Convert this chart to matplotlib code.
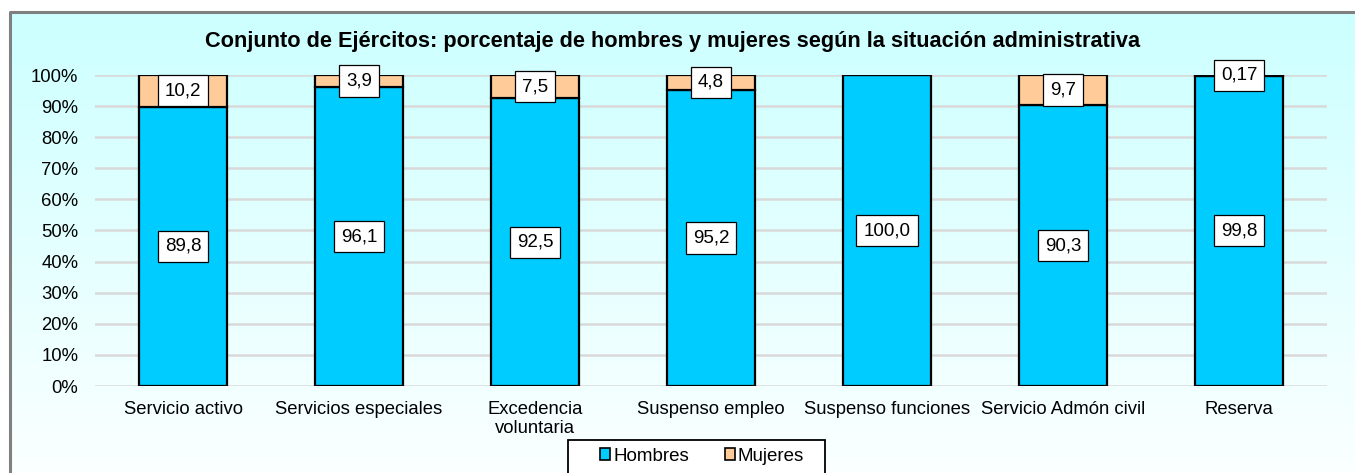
import numpy as np
import matplotlib.pyplot as plt
from matplotlib.lines import Line2D
from matplotlib.patches import Rectangle

plt.rcParams['font.family'] = ['Liberation Sans', 'DejaVu Sans']

categories = ['Servicio activo', 'Servicios especiales', 'Excedencia\nvoluntaria',
              'Suspenso empleo', 'Suspenso funciones', 'Servicio Admón civil', 'Reserva']
hombres = [89.8, 96.1, 92.5, 95.2, 100.0, 90.3, 99.83]
mujeres = [10.2, 3.9, 7.5, 4.8, 0.0, 9.7, 0.17]
hombres_txt = ['89,8', '96,1', '92,5', '95,2', '100,0', '90,3', '99,8']
mujeres_txt = ['10,2', '3,9', '7,5', '4,8', '', '9,7', '0,17']
yticks = list(range(0, 101, 10))

c_h = '#00CCFF'
c_m = '#FFCC99'

W, H = 1355, 473
fig = plt.figure(figsize=(W / 100, H / 100), dpi=100)

# chart area background: cyan at top fading to near white, framed top/left
bg = fig.add_axes([0, 0, 1, 1], zorder=-10)
grad = np.linspace(0, 1, 256).reshape(-1, 1)
top = np.array([0.80, 1.0, 1.0])
bot = np.array([0.985, 1.0, 1.0])
img = top[None, None, :] * (1 - grad[:, :, None]) + bot[None, None, :] * grad[:, :, None]
x0, y0 = 10 / W, 1 - 12 / H
bg.imshow(img, aspect='auto', extent=[x0, 1, 0, y0])
bg.set_xlim(0, 1)
bg.set_ylim(0, 1)
bg.axis('off')
bg.add_line(Line2D([x0, x0, 1], [0, y0, y0], color='#808080', lw=2.2))
# legend box (wider than matplotlib's own frame)
bg.add_patch(Rectangle((568 / W, -0.01), 257 / W, (473 - 440) / H + 0.01,
                       fc='white', ec='black', lw=1.3, zorder=5))

ax = fig.add_axes([95 / W, 1 - 386 / H, 1232 / W, 311 / H])
ax.patch.set_alpha(0)
x = np.arange(len(categories))
ax.bar(x, hombres, 0.5, color=c_h, edgecolor='black', lw=1.6, label='Hombres', zorder=3)
ax.bar(x, mujeres, 0.5, bottom=hombres, color=c_m, edgecolor='black', lw=1.6,
       label='Mujeres', zorder=3)

box = dict(boxstyle='square,pad=0.38', fc='white', ec='black', lw=0.9)
for i in range(len(categories)):
    ax.text(x[i], hombres[i] / 2, hombres_txt[i], ha='center', va='center',
            fontsize=13.5, bbox=box, zorder=5)
    if mujeres_txt[i]:
        ax.text(x[i], hombres[i] + mujeres[i] / 2, mujeres_txt[i], ha='center',
                va='center', fontsize=13.5, bbox=box, zorder=5)

ax.set_xlim(-0.5, len(categories) - 0.5)
ax.set_ylim(0, 100)
ax.set_yticks(yticks)
ax.set_yticklabels([f'{v}%' for v in yticks], fontsize=13.3)
ax.set_xticks(x)
ax.set_xticklabels(categories, fontsize=13.3, linespacing=1.15)
ax.tick_params(length=0)
ax.tick_params(axis='y', pad=12)
ax.tick_params(axis='x', pad=11)
ax.yaxis.grid(True, color='#D9D9D9', lw=1.8, zorder=0)
for s in ax.spines.values():
    s.set_visible(False)

fig.text(673 / W, 1 - 42 / H,
         'Conjunto de Ejércitos: porcentaje de hombres y mujeres según la situación administrativa',
         ha='center', va='center', fontsize=15.7, fontweight='bold')

leg = fig.legend(loc='center', bbox_to_anchor=(702 / W, 1 - 456 / H), ncol=2,
                 fontsize=13.5, frameon=False,
                 handlelength=0.55, handleheight=0.55, handletextpad=0.15,
                 columnspacing=1.9, borderpad=0.35)
leg.set_zorder(10)
for h in leg.legend_handles:
    h.set_linewidth(1.2)

fig.savefig('out.png', dpi=100)
